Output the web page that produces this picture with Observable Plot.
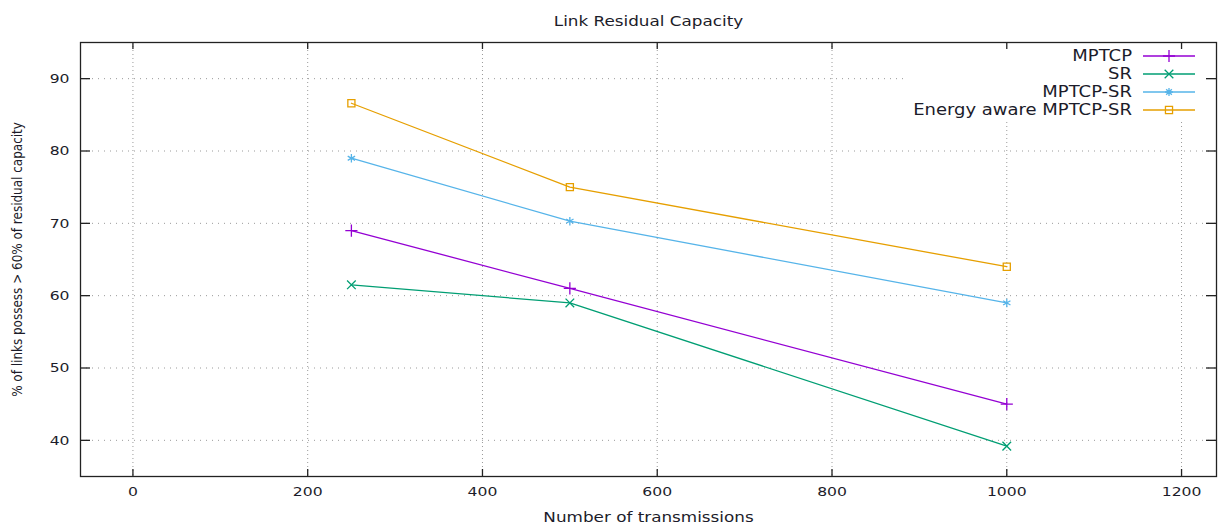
<!DOCTYPE html>
<html>
<head>
<meta charset="utf-8">
<script src="https://cdn.jsdelivr.net/npm/d3@7"></script>
<script src="https://cdn.jsdelivr.net/npm/@observablehq/plot@0.6"></script>
<style>
  html, body { margin: 0; padding: 0; background: #fff; }
  #chart svg { display: block; }
</style>
</head>
<body>
<div id="chart"></div>
<script>
// ---- data ----
const transmissions = [250, 500, 1000];
const mptcp = [69, 61, 45];
const sr = [61.5, 59, 39.2];
const mptcpSr = [79, 70.3, 59];
const energyAware = [86.6, 75, 64];
const seriesNames = ["MPTCP", "SR", "MPTCP-SR", "Energy aware MPTCP-SR"];
const seriesColors = ["#9400d3", "#009e73", "#56b4e9", "#e69f00"];
const seriesSymbols = ["plus", "times", "asterisk", "square"];
const xTicks = [0, 200, 400, 600, 800, 1000, 1200];
const yTicks = [40, 50, 60, 70, 80, 90];
const titleText = "Link Residual Capacity";
const xLabel = "Number of transmissions";
const yLabel = "% of links possess > 60% of residual capacity";

const seriesValues = [mptcp, sr, mptcpSr, energyAware];
const rows = [];
seriesNames.forEach((name, i) => {
  transmissions.forEach((t, j) => rows.push({series: name, x: t, y: seriesValues[i][j]}));
});

const W = 1218, H = 528;
const mL = 80, mR = 2, mT = 42, mB = 52;
const plotW = W - mL - mR, plotH = H - mT - mB;
const R = 4;
const STRETCH = 1.2; // horizontal text stretch seen in the reference
const textColor = "#1c1c2a";

const symbolMap = {plus: d3.symbolPlus, times: d3.symbolTimes, square: d3.symbolSquare};
function asteriskPath(size) {
  const r = Math.sqrt(size / Math.PI);
  const s = r * Math.SQRT1_2;
  return `M0,${-r}V${r}M${-r},0H${r}M${-s},${-s}L${s},${s}M${-s},${s}L${s},${-s}`;
}

function legendMark(index, scales, values, dimensions) {
  const g = d3.create("svg:g");
  const right = dimensions.width - dimensions.marginRight;
  const top = dimensions.marginTop;
  g.append("rect")
    .attr("x", right - 312).attr("y", top + 1)
    .attr("width", 311).attr("height", 76)
    .attr("fill", "#fff");
  seriesNames.forEach((name, i) => {
    const y = top + 14 + 18 * i;
    g.append("text")
      .attr("transform", `translate(${right - 84},${y}) scale(${STRETCH},1)`)
      .attr("dy", "0.35em")
      .attr("text-anchor", "end")
      .attr("fill", textColor)
      .attr("font-size", 15)
      .text(name);
    g.append("line")
      .attr("x1", right - 73).attr("x2", right - 21)
      .attr("y1", y).attr("y2", y)
      .attr("stroke", seriesColors[i]).attr("stroke-width", 1.3);
    const size = Math.PI * R * R;
    const sym = seriesSymbols[i];
    const d = sym === "asterisk" ? asteriskPath(size) : d3.symbol(symbolMap[sym], size)();
    g.append("path")
      .attr("d", d)
      .attr("transform", `translate(${right - 47},${y})`)
      .attr("fill", "none")
      .attr("stroke", seriesColors[i]).attr("stroke-width", 1.3);
  });
  return g.node();
}

const chart = Plot.plot({
  width: W,
  height: H,
  marginLeft: mL,
  marginRight: mR,
  marginTop: mT,
  marginBottom: mB,
  style: {fontFamily: "DejaVu Sans, Verdana, sans-serif", fontSize: "13px", color: textColor, background: "#fff"},
  x: {domain: [-60, 1240], ticks: xTicks, axis: null},
  y: {domain: [35, 95], ticks: yTicks, axis: null},
  color: {domain: seriesNames, range: seriesColors},
  symbol: {domain: seriesNames, range: seriesSymbols},
  marks: [
    // grid
    Plot.ruleX(xTicks, {x: d => d, stroke: "#9a9a9a", strokeWidth: 1, strokeDasharray: "1,3"}),
    Plot.ruleY(yTicks, {y: d => d, stroke: "#9a9a9a", strokeWidth: 1, strokeDasharray: "1,5"}),
    // legend (covers grid like gnuplot key)
    legendMark,
    // data
    Plot.line(rows, {x: "x", y: "y", z: "series", stroke: "series", strokeWidth: 1.3}),
    Plot.dot(rows, {x: "x", y: "y", symbol: "series", stroke: "series", fill: "none", r: R, strokeWidth: 1.3}),
    // frame and inward ticks
    Plot.frame({stroke: "#222", strokeWidth: 1.3}),
    Plot.tickX(xTicks, {x: d => d, stroke: "#222", strokeWidth: 1.3, insetTop: plotH - 7}),
    Plot.tickX(xTicks, {x: d => d, stroke: "#222", strokeWidth: 1.3, insetBottom: plotH - 7}),
    Plot.tickY(yTicks, {y: d => d, stroke: "#222", strokeWidth: 1.3, insetRight: plotW - 10}),
    Plot.tickY(yTicks, {y: d => d, stroke: "#222", strokeWidth: 1.3, insetLeft: plotW - 10}),
    // tick labels
    Plot.axisX({ticks: xTicks, tickSize: 0, tickPadding: 10, label: null, fontSize: 13, fill: textColor, tickFormat: d => String(d)}),
    Plot.axisY({ticks: yTicks, tickSize: 0, tickPadding: 11, label: null, fontSize: 13, fill: textColor, tickFormat: d => String(d)}),
    // titles
    Plot.text([titleText], {frameAnchor: "top", dy: -26, fontSize: 14, fill: textColor}),
    Plot.text([xLabel], {frameAnchor: "bottom", dy: 45, fontSize: 14, fill: textColor}),
    Plot.text([yLabel], {frameAnchor: "left", textAnchor: "middle", dx: -63, rotate: -90, fontSize: 12, fill: textColor})
  ]
});

// the reference's lettering is stretched horizontally: mimic with a local scale
d3.select(chart).selectAll("text").each(function () {
  const t = this.getAttribute("transform");
  if (!t || t.includes("scale")) return;
  if (t.includes("rotate")) this.setAttribute("transform", t + ` scale(1,${STRETCH})`);
  else this.setAttribute("transform", t + ` scale(${STRETCH},1)`);
});
document.getElementById("chart").appendChild(chart);
</script>
</body>
</html>
